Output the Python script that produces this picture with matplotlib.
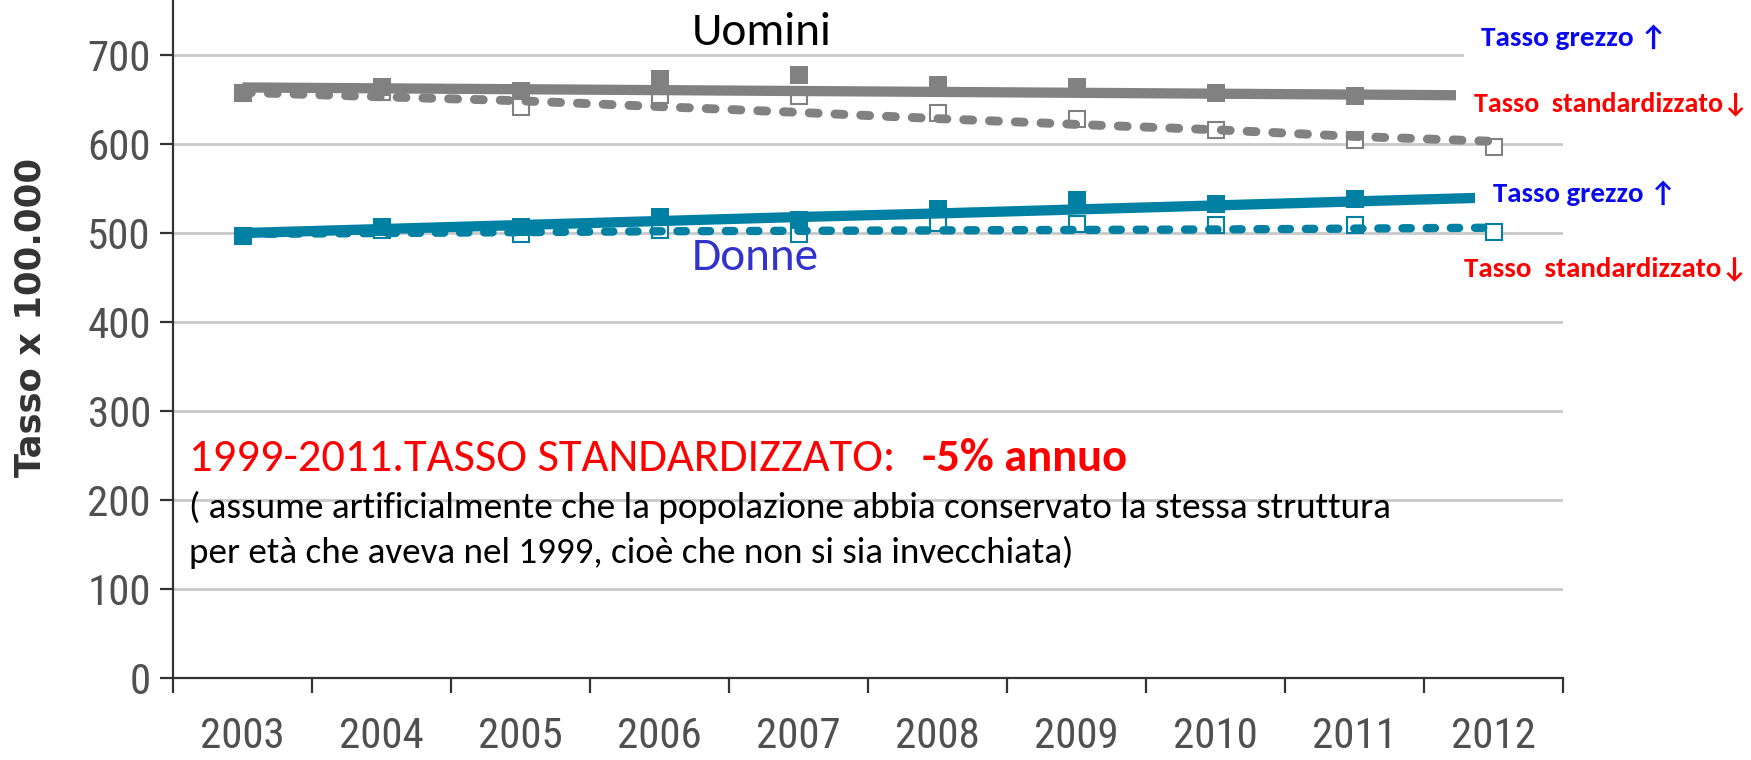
import matplotlib
matplotlib.use('Agg')
import matplotlib.pyplot as plt
from matplotlib import font_manager
from matplotlib.patches import Rectangle
import numpy as np

# ---------------- data ----------------
years = ['2003', '2004', '2005', '2006', '2007', '2008', '2009', '2010', '2011', '2012']
yticks = [0, 100, 200, 300, 400, 500, 600, 700]

# Uomini (men) - crude rate (filled squares, 2003-2011) and standardised rate (open squares)
uomini_grezzo = [657.5, 663.5, 660, 673, 678, 666, 663.5, 657.5, 654]
uomini_std = [657, 658, 641, 655, 654, 635, 628, 616, 605, 597]
uomini_grezzo_trend = [663.5, 662.5, 661.5, 660.5, 659.5, 658.5, 657.5, 656.5, 655.5, 654.5]
uomini_std_trend = [658, 653, 648.5, 642, 635.5, 628.5, 622, 616, 608.5, 603]

# Donne (women)
donne_grezzo = [496.5, 507, 507, 517.5, 515, 527, 537, 533, 538.5]
donne_std = [497, 503, 499, 503, 499, 511, 510, 508.5, 508.5, 501]
donne_grezzo_trend = [500, 504.5, 509, 513.5, 518, 522, 526.5, 531, 535.5, 540]
donne_std_trend = [499, 500, 501, 502, 502.5, 503, 503.5, 504, 505, 506]

# ---------------- style ----------------
W, H = 1751, 760
GRAY = '#818182'
TEAL = '#0080a3'

avail = {f.name for f in font_manager.fontManager.ttflist}
def pick(cands, default='DejaVu Sans'):
    for c in cands:
        if c in avail:
            return c
    return default

NARROW = pick(['Liberation Sans Narrow', 'Roboto Condensed', 'Open Sans Condensed', 'Arial Narrow'])
BODY = [pick(['Carlito', 'Lato', 'Open Sans']), 'DejaVu Sans']

fig = plt.figure(figsize=(W / 100, H / 100), dpi=100)
ax = fig.add_axes([173 / W, 81.7 / H, 1390 / W, 678.3 / H])
ax.set_xlim(-0.5, 9.5)
ax.set_ylim(0, 761.7)

x_all = np.arange(len(years))
x_g = np.arange(len(uomini_grezzo))

# grid
ax.set_yticks(yticks)
ax.yaxis.grid(True, color='#c9c9c9', lw=2.0)
ax.set_axisbelow(True)

dash = (0, (1.0, 1.9))
# open markers (standardised)
ax.plot(x_all, uomini_std, ls='none', marker='s', ms=12, mfc='white', mec=GRAY, mew=1.5, zorder=3)
ax.plot(x_all, donne_std, ls='none', marker='s', ms=12, mfc='white', mec=TEAL, mew=1.5, zorder=3)
# dashed trend (standardised)
ax.plot(x_all, uomini_std_trend, color=GRAY, lw=6.4, ls=dash, dash_capstyle='round', zorder=4)
ax.plot(x_all, donne_std_trend, color=TEAL, lw=6.0, ls=dash, dash_capstyle='round', zorder=4)
# solid trend (crude)
ax.plot(x_all, uomini_grezzo_trend, color=GRAY, lw=7.4, solid_capstyle='butt', zorder=5)
ax.plot(x_all, donne_grezzo_trend, color=TEAL, lw=7.4, solid_capstyle='butt', zorder=5)
# filled markers (crude)
ax.plot(x_g, uomini_grezzo, ls='none', marker='s', ms=13, mfc=GRAY, mec=GRAY, mew=0, zorder=6)
ax.plot(x_g, donne_grezzo, ls='none', marker='s', ms=13, mfc=TEAL, mec=TEAL, mew=0, zorder=6)

# spines / ticks
for s in ['top', 'right']:
    ax.spines[s].set_visible(False)
for s in ['left', 'bottom']:
    ax.spines[s].set_color('#333333')
    ax.spines[s].set_linewidth(1.6)

ax.set_xticks(x_all)
ax.set_xticklabels(years)
ax.set_xticks(np.arange(-0.5, 10, 1), minor=True)
ax.tick_params(axis='x', which='major', length=0, pad=27, labelsize=31, labelcolor='#505050')
ax.tick_params(axis='x', which='minor', length=10.8, width=1.6, color='#333333', direction='out')
ax.tick_params(axis='y', which='major', length=9.4, width=1.6, color='#333333', direction='out',
               pad=6.5, labelsize=31, labelcolor='#505050')
for lab in ax.get_xticklabels() + ax.get_yticklabels():
    lab.set_fontfamily(NARROW)

renderer = fig.canvas.get_renderer()

def fx(px):
    return px / W

def fy(py):
    return 1 - py / H

def fit_text(s, x_left, baseline, width, fit_s=None, **kw):
    t = fig.text(fx(x_left), fy(baseline), fit_s if fit_s else s, fontsize=20,
                 ha='left', va='baseline', **kw)
    bb = t.get_window_extent(renderer)
    t.set_fontsize(20 * width / bb.width)
    t.set_text(s)
    return t

def white_box(x0, y0, x1, y1):
    fig.patches.append(Rectangle((fx(x0), fy(y1)), fx(x1) - fx(x0), (y1 - y0) / H,
                                 transform=fig.transFigure, facecolor='white',
                                 edgecolor='none', zorder=10))

# white text boxes of the slide over the chart
white_box(1464, 18, W, 59)
white_box(1456, 84, W, 120)
white_box(1475, 176, W, 212)

# y label
fig.text(fx(31), fy(317), 'Tasso x 100.000', rotation=90, ha='center', va='center',
         fontsize=25.5, color='#333333', family='DejaVu Sans', weight='bold', zorder=11)

# series labels
fit_text('Uomini', 692, 45, 140, color='black', family=BODY, zorder=11)
fit_text('Donne', 692, 270, 127, color='#3232cc', family=BODY, zorder=11)

fit_text('Tasso grezzo \u2191', 1481, 46, 187, color='#0a0aee', family=BODY, weight='bold', zorder=11)
fit_text('Tasso  standardizzato\u2193', 1474, 111, 248, fit_s='Tasso  standardizzato',
         color='#ff0000', family=BODY, weight='bold', zorder=11)
fit_text('Tasso grezzo \u2191', 1493, 202, 184, color='#0a0aee', family=BODY, weight='bold', zorder=11)
fit_text('Tasso  standardizzato\u2193', 1464, 276, 258, fit_s='Tasso  standardizzato',
         color='#ff0000', family=BODY, weight='bold', zorder=11)

# annotation block
t1 = fit_text('1999-2011.TASSO STANDARDIZZATO:', 189, 471, 708, color='#ff0000', family=BODY, zorder=11)
fig.text(fx(922), fy(471), '-5% annuo', fontsize=t1.get_fontsize(), ha='left', va='baseline',
         color='#ff0000', family=BODY, weight='bold', zorder=11)
fit_text('( assume artificialmente che la popolazione abbia conservato la stessa struttura',
         189, 518, 1201, color='black', family=BODY, zorder=11)
fit_text('per et\u00e0 che aveva nel 1999, cio\u00e8 che non si sia invecchiata)',
         189, 563, 885, color='black', family=BODY, zorder=11)

fig.savefig('out.png', dpi=100)
